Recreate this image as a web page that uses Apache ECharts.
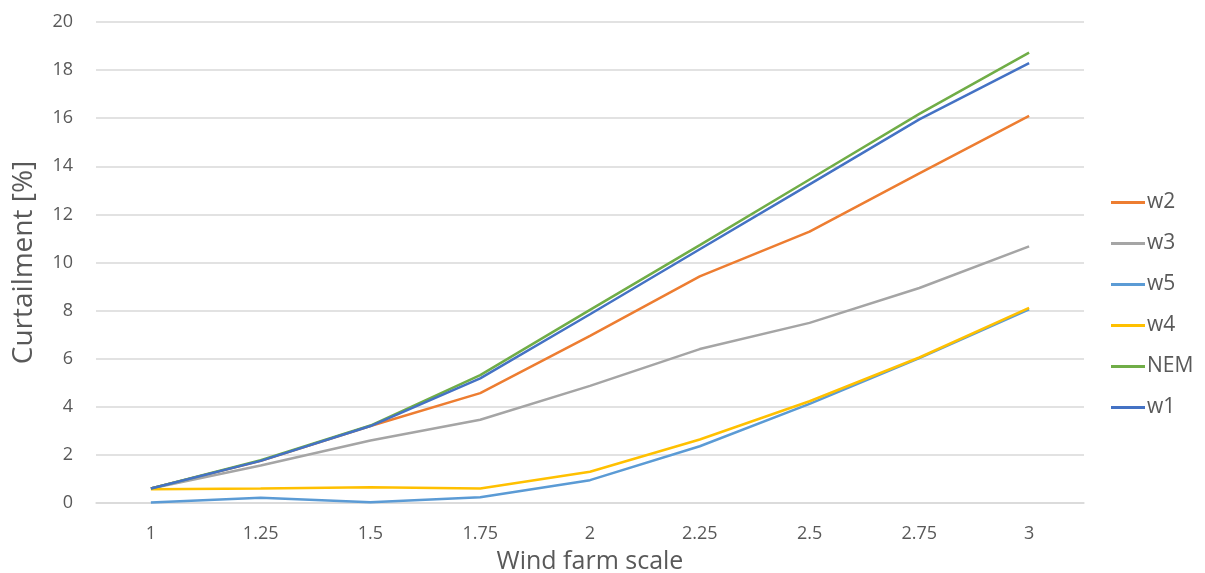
<!DOCTYPE html>
<html>
<head>
<meta charset="utf-8">
<script src="https://cdn.jsdelivr.net/npm/echarts@6/dist/echarts.min.js"></script>
<style>
  html, body { margin: 0; padding: 0; background: #fff; }
  #chart { width: 1205px; height: 573px; }
</style>
</head>
<body>
<div id="chart"></div>
<script>
// Wind farm scale factors (x categories)
const scales = ['1', '1.25', '1.5', '1.75', '2', '2.25', '2.5', '2.75', '3'];

// Curtailment [%] per region
const w2  = [0.60, 1.75, 3.20, 4.57, 6.95, 9.42, 11.28, 13.71, 16.10];
const w3  = [0.60, 1.56, 2.60, 3.46, 4.87, 6.40, 7.49, 8.94, 10.67];
const w5  = [0.02, 0.22, 0.03, 0.24, 0.95, 2.36, 4.12, 6.02, 8.05];
const w4  = [0.57, 0.60, 0.65, 0.60, 1.30, 2.64, 4.23, 6.05, 8.11];
const nem = [0.60, 1.78, 3.22, 5.32, 8.03, 10.72, 13.45, 16.18, 18.73];
const w1  = [0.60, 1.75, 3.20, 5.18, 7.85, 10.55, 13.25, 15.95, 18.29];

const yTicks = [0, 2, 4, 6, 8, 10, 12, 14, 16, 18, 20];

const textColor = '#595959';
const gridColor = '#d9d9d9';
const fontFamily = '"Open Sans", "Noto Sans", sans-serif';

function line(name, data, color) {
  return {
    name: name,
    type: 'line',
    data: data,
    showSymbol: false,
    symbol: 'none',
    lineStyle: { color: color, width: 2.5 },
    itemStyle: { color: color },
    emphasis: { disabled: true }
  };
}

const chart = echarts.init(document.getElementById('chart'), null, { renderer: 'canvas' });
chart.setOption({
  animation: false,
  textStyle: { fontFamily: fontFamily },
  grid: { left: 96, right: 121, top: 22, bottom: 70, containLabel: false, outerBoundsMode: 'none' },
  legend: {
    orient: 'vertical',
    left: 1106,
    top: 187,
    itemWidth: 34,
    itemHeight: 3,
    itemGap: 20,
    icon: 'rect',
    textStyle: { color: textColor, fontSize: 21, fontFamily: fontFamily, lineHeight: 20, padding: [0, 0, 0, -3] },
    data: ['w2', 'w3', 'w5', 'w4', 'NEM', 'w1']
  },
  xAxis: {
    type: 'category',
    data: scales,
    boundaryGap: true,
    name: 'Wind farm scale',
    nameLocation: 'middle',
    nameGap: 46,
    nameTextStyle: { color: textColor, fontSize: 25, fontFamily: fontFamily },
    axisLine: { show: true, lineStyle: { color: gridColor, width: 1.5 } },
    axisTick: { show: false },
    axisLabel: { color: textColor, fontSize: 18, margin: 22, fontFamily: fontFamily },
    splitLine: { show: false }
  },
  yAxis: {
    type: 'value',
    min: yTicks[0],
    max: yTicks[yTicks.length - 1],
    interval: 2,
    name: 'Curtailment [%]',
    nameLocation: 'middle',
    nameGap: 58,
    nameTextStyle: { color: textColor, fontSize: 28, fontFamily: fontFamily },
    axisLine: { show: false },
    axisTick: { show: false },
    axisLabel: { color: textColor, fontSize: 18, margin: 23, fontFamily: fontFamily },
    splitLine: { show: true, lineStyle: { color: gridColor, width: 1.5 } }
  },
  series: [
    line('w2', w2, '#ED7D31'),
    line('w3', w3, '#A5A5A5'),
    line('w5', w5, '#5B9BD5'),
    line('w4', w4, '#FFC000'),
    line('NEM', nem, '#70AD47'),
    line('w1', w1, '#4472C4')
  ]
});
</script>
</body>
</html>
